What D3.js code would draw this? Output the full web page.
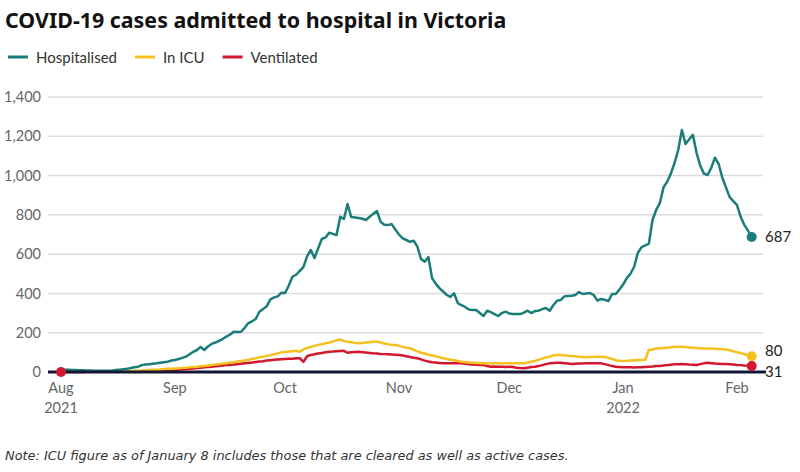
<!DOCTYPE html>
<html><head><meta charset="utf-8">
<script src="https://cdn.jsdelivr.net/npm/d3@7"></script>
<style>
body{margin:0;background:#fff;}
svg{display:block;font-family:Lato,"Noto Sans",sans-serif;}
</style></head>
<body><svg id="c" width="800" height="472"></svg>
<script>
const startDate = "2021-08-01";
const hospitalised = [12,12,11,10,10,9,9,8,8,7,6,6,6,7,8,10,12,14,16,20,
24,27,35,38,40,42,44,47,50,52,58,61,66,72,78,90,103,112,127,112,
130,143,150,159,168,180,190,205,204,205,225,249,258,270,307,320,335,370,380,385,
404,402,440,485,495,515,535,590,621,580,630,677,685,709,703,697,790,779,855,789,
787,784,780,774,790,805,819,765,750,748,753,725,700,680,672,663,668,638,575,561,
585,478,450,427,410,392,382,400,351,340,331,318,316,316,300,285,312,305,295,285,
300,307,298,295,295,295,302,312,300,310,312,320,326,312,340,363,366,385,387,388,
392,407,397,400,402,392,363,372,368,361,397,397,420,445,478,500,536,606,635,645,
652,774,825,860,940,969,1010,1064,1130,1232,1161,1185,1207,1115,1050,1010,1003,1040,1091,1060,
989,940,890,870,850,790,748,720,687];
const inICU = [1,1,1,1,1,1,2,2,2,2,2,2,2,3,3,3,4,4,5,5,
6,7,8,9,10,11,12,13,15,16,17,18,19,21,22,24,25,27,29,31,
33,36,38,40,43,45,48,50,53,56,59,62,66,70,75,78,82,86,90,95,
100,102,104,106,108,103,115,122,128,133,138,142,146,149,155,162,165,158,154,152,
148,146,148,150,152,154,155,150,145,142,138,137,133,128,124,121,113,105,98,94,
88,84,80,75,70,66,62,60,56,52,50,48,47,46,45,44,44,43,44,44,
43,44,44,45,44,44,45,48,52,56,63,68,74,78,84,87,86,85,83,82,
80,78,76,75,76,77,78,78,76,72,66,60,57,56,57,59,60,61,61,61,
112,115,120,121,122,124,126,128,129,129,127,125,124,122,121,120,120,119,118,117,
116,115,111,106,101,97,91,85,80];
const ventilated = [0,0,0,0,0,0,0,1,1,1,1,1,1,1,1,1,1,1,1,1,
2,2,3,3,4,5,6,7,8,9,10,11,12,14,15,17,18,20,22,24,
26,27,29,31,33,35,36,38,40,42,44,46,48,51,53,55,58,60,62,64,
65,66,67,68,70,70,52,80,87,90,94,97,100,103,104,106,107,108,98,100,
102,103,101,99,97,95,94,92,91,90,89,88,87,84,80,76,73,70,64,58,
53,50,48,46,45,44,44,44,44,44,42,40,38,37,36,35,31,27,28,27,
27,26,27,25,22,20,19,22,25,27,30,35,40,44,46,47,47,45,43,41,
42,43,43,44,44,45,44,44,40,35,30,27,25,24,24,24,23,24,24,26,
27,28,30,31,33,35,37,39,40,41,40,38,37,36,40,44,47,45,43,42,
41,41,40,38,36,35,33,32,31];
const seriesNames = ["Hospitalised","In ICU","Ventilated"];
const seriesColors = ["#1b7d79","#f5c11e","#d3172e"];
const yTicks = [0,200,400,600,800,1000,1200,1400];
const xTicks = ["2021-08-01","2021-09-01","2021-10-01","2021-11-01","2021-12-01","2022-01-01","2022-02-01"];
const xTickLabels = ["Aug","Sep","Oct","Nov","Dec","Jan","Feb"];
const xYearLabels = ["2021","","","","","2022",""];
const title = "COVID-19 cases admitted to hospital in Victoria";
const note = "Note: ICU figure as of January 8 includes those that are cleared as well as active cases.";

const parse = d3.utcParse("%Y-%m-%d");
const t0 = parse(startDate);
const dates = hospitalised.map((_, i) => d3.utcDay.offset(t0, i));
const allSeries = [hospitalised, inICU, ventilated];

const svg = d3.select("#c");
const x = d3.scaleUtc().domain([parse("2021-08-01"), parse("2022-02-01")]).range([61, 737]);
const y = d3.scaleLinear().domain([0, 1400]).range([372, 97]);
const gridL = 48, gridR = 763;

// title
svg.append("text").attr("x", 5).attr("y", 28).text(title)
  .attr("font-family", "'Noto Sans', sans-serif").attr("font-weight", 700)
  .attr("font-size", 21.4).attr("fill", "#121212");

// legend
let lx = 8;
const legend = svg.append("g");
seriesNames.forEach((n, i) => {
  const g = legend.append("g");
  g.append("line").attr("x1", lx).attr("x2", lx + 20).attr("y1", 57).attr("y2", 57)
    .attr("stroke", seriesColors[i]).attr("stroke-width", 3);
  const t = g.append("text").attr("x", lx + 28).attr("y", 63).text(n)
    .attr("font-size", 15).attr("fill", "#333");
  lx += 28 + t.node().getComputedTextLength() + 18;
});

// gridlines + y labels
const yAxis = svg.append("g");
yTicks.forEach(v => {
  if (v > 0) yAxis.append("line").attr("x1", gridL).attr("x2", gridR)
    .attr("y1", y(v)).attr("y2", y(v)).attr("stroke", "#dcdcdc").attr("stroke-width", 1.5);
  yAxis.append("text").attr("x", 41).attr("y", y(v)).attr("dy", "0.35em")
    .attr("text-anchor", "end").attr("font-size", 14.5).attr("fill", "#666")
    .text(d3.format(",")(v));
});

// x labels
xTicks.forEach((d, i) => {
  const xx = x(parse(d));
  svg.append("text").attr("x", xx).attr("y", 393).attr("text-anchor", "middle")
    .attr("font-size", 14.5).attr("fill", "#666").text(xTickLabels[i]);
  if (xYearLabels[i]) svg.append("text").attr("x", xx).attr("y", 413).attr("text-anchor", "middle")
    .attr("font-size", 14.5).attr("fill", "#666").text(xYearLabels[i]);
});

// lines
const line = d3.line().x((d, i) => x(dates[i])).y(d => y(d)).curve(d3.curveLinear);
[2,1,0].forEach(k => {
  svg.append("path").datum(allSeries[k]).attr("d", line).attr("fill", "none")
    .attr("stroke", seriesColors[k]).attr("stroke-width", 2.5).attr("stroke-linejoin", "round");
});

// zero axis
svg.append("line").attr("x1", gridL).attr("x2", 766).attr("y1", y(0)).attr("y2", y(0))
  .attr("stroke", "#121634").attr("stroke-width", 3);

// start marker
svg.append("circle").attr("cx", x(dates[0])).attr("cy", y(ventilated[0])).attr("r", 5).attr("fill", seriesColors[2]);

// end markers + labels
const last = dates.length - 1;
const labelDy = [0, -6, 6];
[1,2,0].forEach(k => {
  const v = allSeries[k][last];
  svg.append("circle").attr("cx", x(dates[last])).attr("cy", y(v)).attr("r", 5).attr("fill", seriesColors[k]);
  svg.append("text").attr("x", 765).attr("y", y(v) + labelDy[k]).attr("dy", "0.35em")
    .attr("font-size", 15).attr("fill", "#222").text(v);
});

// note
svg.append("text").attr("x", 5).attr("y", 460).attr("font-style", "italic")
  .attr("font-family", "'DejaVu Sans', sans-serif")
  .attr("font-size", 12.9).attr("fill", "#333").text(note);
</script>
</body></html>
